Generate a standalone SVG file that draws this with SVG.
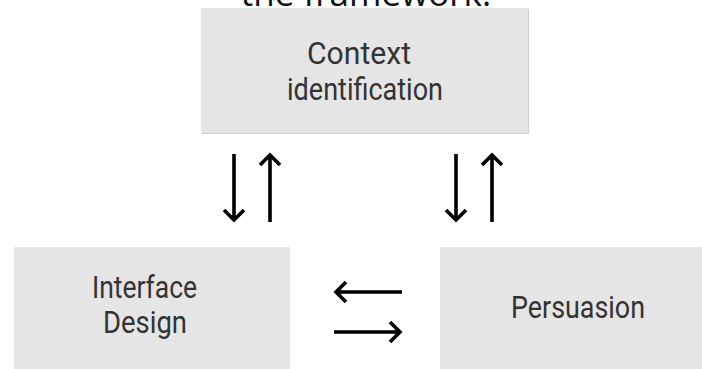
<svg xmlns="http://www.w3.org/2000/svg" width="702" height="369" viewBox="0 0 702 369">
<style>
.box{fill:#e5e5e5}
.shadow{fill:#cfcfcf}
.lbl{font-family:Roboto,"Liberation Sans",sans-serif;font-size:31px;fill:#333333;text-anchor:middle}
.title{font-family:"Open Sans","Noto Sans",sans-serif;font-size:35px;fill:#111111;text-anchor:middle}
.arr{fill:none;stroke:#000000;stroke-width:3.6;stroke-linecap:butt;stroke-linejoin:miter}
</style>
<rect width="702" height="369" fill="#ffffff"/>
<text class="title" x="366" y="6">the framework.</text>
<g id="context">
<rect class="shadow" x="202" y="9" width="327" height="125"/>
<rect class="box" x="201" y="8" width="327" height="125"/>
<text class="lbl" x="359" y="64" textLength="104" lengthAdjust="spacingAndGlyphs">Context</text>
<text class="lbl" x="365" y="100" textLength="156" lengthAdjust="spacingAndGlyphs">identification</text>
</g>
<g id="interface">
<rect class="box" x="14" y="247" width="276" height="122"/>
<text class="lbl" x="144.5" y="298" textLength="105" lengthAdjust="spacingAndGlyphs">Interface</text>
<text class="lbl" x="145" y="333" textLength="84" lengthAdjust="spacingAndGlyphs">Design</text>
</g>
<g id="persuasion">
<rect class="box" x="440" y="247" width="262" height="122"/>
<text class="lbl" x="578" y="318" textLength="134" lengthAdjust="spacingAndGlyphs">Persuasion</text>
</g>
<g id="connectors">
<path class="arr" d="M234,154 V220 M224,210 L234,220 L244,210"/>
<path class="arr" d="M270,222 V156 M260,165 L270,155 L280,165"/>
<path class="arr" d="M456,154 V220 M446,210 L456,220 L466,210"/>
<path class="arr" d="M492,222 V156 M482,165 L492,155 L502,165"/>
<path class="arr" d="M402,292 H336 M346,282 L336,292 L346,302"/>
<path class="arr" d="M334,332 H400 M390,322 L400,332 L390,342"/>
</g>
</svg>
